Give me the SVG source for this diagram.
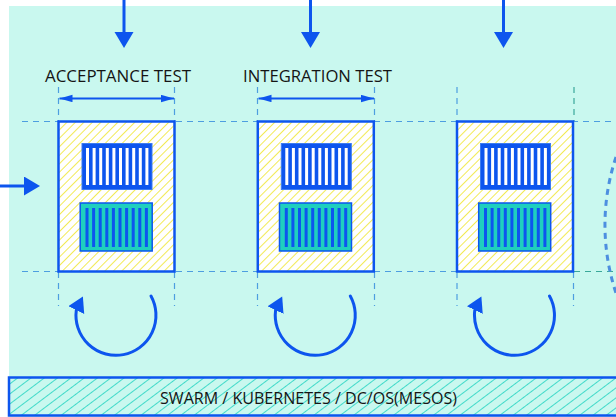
<svg xmlns="http://www.w3.org/2000/svg" width="616" height="417" viewBox="0 0 616 417">
<style>
.lbl{font-family:"Open Sans","Liberation Sans",sans-serif;font-size:17px;fill:#151515}
.bar-lbl{font-family:"Open Sans","Liberation Sans",sans-serif;font-size:16.5px;fill:#151515}
.guide{stroke:#4d9ee0;stroke-width:1.2;stroke-dasharray:6 5;fill:none}
.guide-g{stroke:#3aa89a;stroke-width:1.2;stroke-dasharray:6 5;fill:none}
.flow{stroke:#0d55ee;stroke-width:3;fill:none}
.dim{stroke:#0d55ee;stroke-width:1.8;fill:none}
.cycle{stroke:#0d55ee;stroke-width:3;fill:none;stroke-linecap:round}
.stage{fill:url(#yhatch);stroke:#0d55ee;stroke-width:2.5}
.img{fill:#0d55ee;stroke:#3d7cf0;stroke-width:1}
.ctr{fill:#1fcfbf;stroke:#0d55ee;stroke-width:1.5}
.wbar{fill:#ffffff}
.bbar{fill:#0d55ee}
</style>
<defs>
<pattern id="yhatch" patternUnits="userSpaceOnUse" width="6" height="6" patternTransform="rotate(45)">
<rect width="6" height="6" fill="#ffffff"/>
<line x1="0" y1="0" x2="0" y2="6" stroke="#f2ea55" stroke-width="2"/>
</pattern>
<pattern id="chatch" patternUnits="userSpaceOnUse" width="8" height="8" patternTransform="rotate(53)">
<rect width="8" height="8" fill="#c9f8ef"/>
<line x1="0" y1="0" x2="0" y2="8" stroke="#1fd3c0" stroke-width="1.6"/>
</pattern>
<marker id="bigHead" markerUnits="userSpaceOnUse" markerWidth="17" markerHeight="20" refX="0" refY="9.5" orient="auto">
<path d="M0,0 L16,9.5 L0,19 z" fill="#0d55ee"/>
</marker>
<marker id="dimHead" markerUnits="userSpaceOnUse" markerWidth="14" markerHeight="8" refX="13" refY="3.7" orient="auto-start-reverse">
<path d="M0,0 L13,3.7 L0,7.4 z" fill="#0d55ee"/>
</marker>
<marker id="cycHead" markerUnits="userSpaceOnUse" markerWidth="16" markerHeight="18" refX="0" refY="8.8" orient="-64">
<path d="M0,0 L15,8.8 L0,17.6 z" fill="#0d55ee"/>
</marker>
<g id="stageShape">
<rect class="stage" x="0" y="0" width="116" height="150"/>
<rect class="img" x="23.5" y="22" width="70" height="46"/>
<g class="wbar">
<rect x="27.5" y="26.5" width="3" height="37"/><rect x="34.1" y="26.5" width="3" height="37"/><rect x="40.7" y="26.5" width="3" height="37"/><rect x="47.3" y="26.5" width="3" height="37"/><rect x="53.9" y="26.5" width="3" height="37"/><rect x="60.5" y="26.5" width="3" height="37"/><rect x="67.1" y="26.5" width="3" height="37"/><rect x="73.7" y="26.5" width="3" height="37"/><rect x="80.3" y="26.5" width="3" height="37"/><rect x="86.9" y="26.5" width="3" height="37"/>
</g>
<rect class="ctr" x="21.7" y="81.5" width="72" height="48"/>
<g class="bbar">
<rect x="27" y="86.5" width="3" height="39"/><rect x="33.6" y="86.5" width="3" height="39"/><rect x="40.2" y="86.5" width="3" height="39"/><rect x="46.8" y="86.5" width="3" height="39"/><rect x="53.4" y="86.5" width="3" height="39"/><rect x="60" y="86.5" width="3" height="39"/><rect x="66.6" y="86.5" width="3" height="39"/><rect x="73.2" y="86.5" width="3" height="39"/><rect x="79.8" y="86.5" width="3" height="39"/><rect x="86.4" y="86.5" width="3" height="39"/>
</g>
</g>
<path id="cyclePath" class="cycle" d="M151,296 A40,40 0 1 1 76.3,310.1" marker-end="url(#cycHead)"/>
</defs>

<rect id="background" x="9" y="6" width="607" height="411" fill="#c9f8ef"/>

<g id="guides">
<line class="guide" x1="22" y1="121.5" x2="616" y2="121.5"/>
<line class="guide" x1="22" y1="271.5" x2="457" y2="271.5"/>
<line class="guide-g" x1="574" y1="271.5" x2="616" y2="271.5"/>
<line class="guide" x1="58.5" y1="87" x2="58.5" y2="121"/>
<line class="guide" x1="174.5" y1="87" x2="174.5" y2="121"/>
<line class="guide" x1="257.5" y1="87" x2="257.5" y2="121"/>
<line class="guide" x1="374.5" y1="87" x2="374.5" y2="121"/>
<line class="guide" x1="457" y1="87" x2="457" y2="121"/>
<line class="guide-g" x1="574" y1="87" x2="574" y2="121"/>
<line class="guide" x1="58.5" y1="272" x2="58.5" y2="306"/>
<line class="guide" x1="174.5" y1="272" x2="174.5" y2="306"/>
<line class="guide" x1="257.5" y1="272" x2="257.5" y2="306"/>
<line class="guide" x1="374.5" y1="272" x2="374.5" y2="306"/>
<line class="guide" x1="457" y1="272" x2="457" y2="306"/>
<line class="guide" x1="573.5" y1="272" x2="573.5" y2="306"/>
<path d="M616,157 A215,215 0 0 0 616,293" stroke="#4d8fe0" stroke-width="3" stroke-dasharray="6 5" fill="none"/>
</g>

<g id="stage-acceptance">
<use href="#stageShape" x="58.5" y="121.5"/>
<text class="lbl" x="45" y="82" textLength="146" lengthAdjust="spacingAndGlyphs">ACCEPTANCE TEST</text>
</g>
<g id="stage-integration">
<use href="#stageShape" x="257.8" y="121.5"/>
<text class="lbl" x="243" y="82" textLength="149" lengthAdjust="spacingAndGlyphs">INTEGRATION TEST</text>
</g>
<g id="stage-third">
<use href="#stageShape" x="457" y="121.5"/>
</g>

<g id="orchestrator">
<rect x="9" y="377.5" width="612" height="38" fill="url(#chatch)" stroke="#0d55ee" stroke-width="2.5"/>
<text class="bar-lbl" x="160" y="404" textLength="297" lengthAdjust="spacingAndGlyphs">SWARM / KUBERNETES / DC/OS(MESOS)</text>
</g>

<g id="connectors">
<line class="flow" x1="124" y1="0" x2="124" y2="32" marker-end="url(#bigHead)"/>
<line class="flow" x1="310.5" y1="0" x2="310.5" y2="32" marker-end="url(#bigHead)"/>
<line class="flow" x1="503.5" y1="0" x2="503.5" y2="32" marker-end="url(#bigHead)"/>
<line class="flow" x1="0" y1="186" x2="24" y2="186" marker-end="url(#bigHead)"/>
<line class="dim" x1="59.5" y1="98.5" x2="174" y2="98.5" marker-start="url(#dimHead)" marker-end="url(#dimHead)"/>
<line class="dim" x1="258.5" y1="98.5" x2="374" y2="98.5" marker-start="url(#dimHead)" marker-end="url(#dimHead)"/>
<use href="#cyclePath"/>
<use href="#cyclePath" x="199.3"/>
<use href="#cyclePath" x="398.5"/>
</g>
</svg>
